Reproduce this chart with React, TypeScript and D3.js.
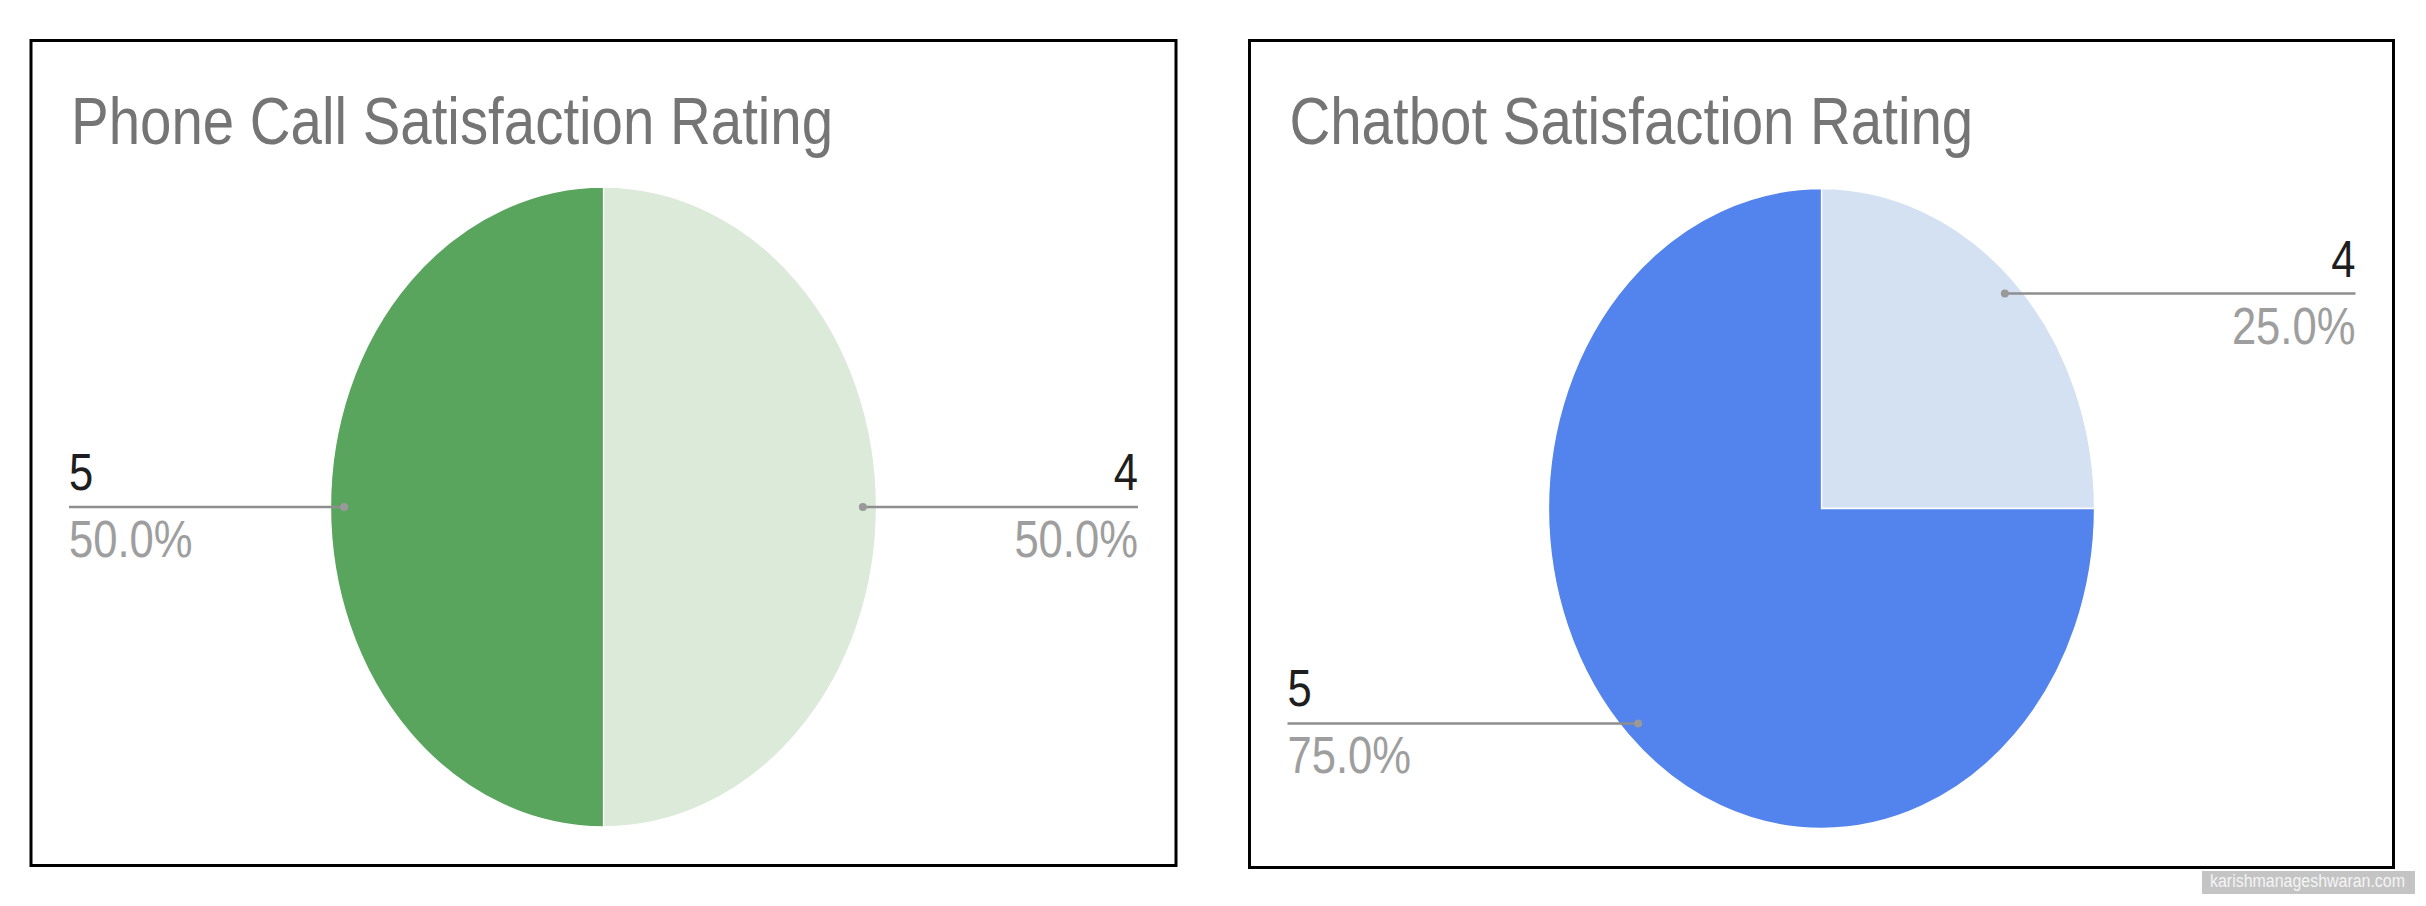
import React from "react";
import * as d3 from "d3";

const categories = ["4", "5"];
const phoneValues = [50, 50];
const chatbotValues = [25, 75];
const phoneColors = ["#dceada", "#5aa55e"];
const chatbotColors = ["#d4e1f2", "#5383ec"];
const titles = ["Phone Call Satisfaction Rating", "Chatbot Satisfaction Rating"];

const W = 2426;
const H = 906;
const SX = 0.855;

type PanelProps = {
  x: number;
  y: number;
  w: number;
  h: number;
  title: string;
  values: number[];
  colors: string[];
  cy: number;
};

function Panel({ x, y, w, h, title, values, colors, cy }: PanelProps) {
  const ry = 320;
  const rx = 273;
  const cx = x + w / 2;
  const pie = d3
    .pie<number>()
    .sort(null)
    .value((d) => d)
    .startAngle(0)
    .endAngle(2 * Math.PI);
  const arcs = pie(values);
  const arc = d3.arc<d3.PieArcDatum<number>>().innerRadius(0).outerRadius(ry);
  const total = d3.sum(values);
  const fmt = d3.format(".1f");
  const font = "'Liberation Sans', Arial, Helvetica, sans-serif";
  return (
    <g>
      <rect x={x} y={y} width={w} height={h} fill="#ffffff" stroke="#000000" strokeWidth={3} />
      <text
        transform={`translate(${x + 40},144) scale(${SX},1)`}
        fontFamily={font}
        fontSize={66}
        fill="#757575"
      >
        {title}
      </text>
      <g transform={`translate(${cx},${cy}) scale(${rx / ry},1)`}>
        {arcs.map((a, i) => (
          <path key={i} d={arc(a) || ""} fill={colors[i]} stroke="#ffffff" strokeWidth={1.5} />
        ))}
      </g>
      {arcs.map((a, i) => {
        const mid = (a.startAngle + a.endAngle) / 2;
        const f = 0.95;
        const dx = cx + rx * f * Math.sin(mid);
        const dy = cy - ry * f * Math.cos(mid);
        const right = Math.sin(mid) > 0;
        const lx = right ? x + w - 38 : x + 38;
        const anchor = right ? "end" : "start";
        const pct = fmt((values[i] / total) * 100) + "%";
        return (
          <g key={"l" + i}>
            <line x1={dx} y1={dy} x2={lx} y2={dy} stroke="#8e8e8e" strokeWidth={2.6} />
            <circle cx={dx} cy={dy} r={4} fill="#999999" />
            <text
              transform={`translate(${lx},${dy - 17}) scale(${SX},1)`}
              textAnchor={anchor}
              fontFamily={font}
              fontSize={51}
              fill="#1e1e1e"
            >
              {categories[i]}
            </text>
            <text
              transform={`translate(${lx},${dy + 50}) scale(${SX},1)`}
              textAnchor={anchor}
              fontFamily={font}
              fontSize={51}
              fill="#9e9e9e"
            >
              {pct}
            </text>
          </g>
        );
      })}
    </g>
  );
}

export default function App() {
  return (
    <div style={{ position: "absolute", left: 0, top: 0 }}>
      <svg width={W} height={H} style={{ display: "block", background: "#ffffff" }}>
        <rect x={0} y={0} width={W} height={H} fill="#ffffff" />
        <Panel x={31} y={40.5} w={1145} h={825} title={titles[0]} values={phoneValues} colors={phoneColors} cy={507} />
        <Panel x={1249.5} y={40.5} w={1144} h={827} title={titles[1]} values={chatbotValues} colors={chatbotColors} cy={508.5} />
        <rect x={2202} y={871} width={213} height={23} fill="#c4c4c4" />
        <text
          x={2210}
          y={887}
          textLength={195}
          lengthAdjust="spacingAndGlyphs"
          fontFamily="'Liberation Sans', Arial, sans-serif"
          fontSize={18}
          fill="#f4f4f4"
        >
          karishmanageshwaran.com
        </text>
      </svg>
    </div>
  );
}
